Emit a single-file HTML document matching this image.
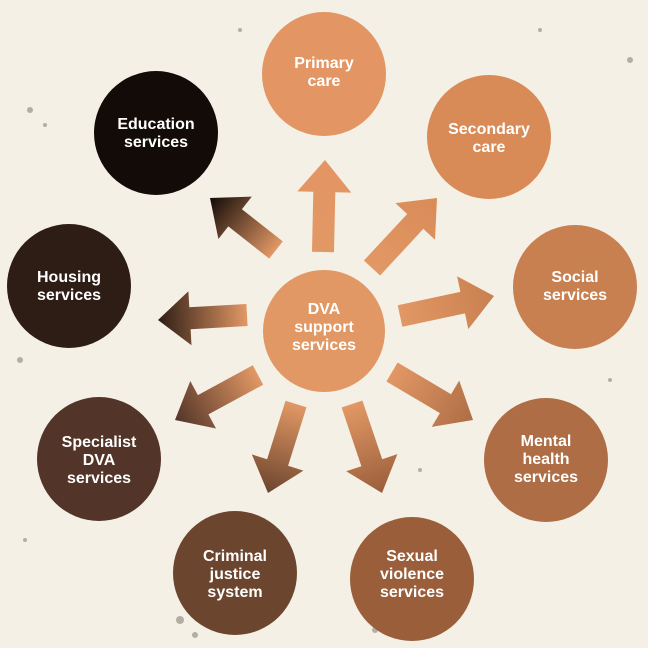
<!DOCTYPE html>
<html><head><meta charset="utf-8"><style>
html,body{margin:0;padding:0;background:#f4f0e6;}
svg{display:block}
text{font-family:"Liberation Sans",sans-serif;font-weight:bold;font-size:16px;fill:#fff;text-anchor:middle}
</style></head><body>
<svg width="648" height="648" viewBox="0 0 648 648" xmlns="http://www.w3.org/2000/svg">
<rect width="648" height="648" fill="#f4f0e6"/>
<g fill="#3a3530" opacity="0.35">
<circle cx="30" cy="110" r="3"/><circle cx="45" cy="125" r="2"/><circle cx="20" cy="360" r="3"/><circle cx="25" cy="540" r="2"/>
<circle cx="180" cy="620" r="4"/><circle cx="195" cy="635" r="3"/><circle cx="375" cy="630" r="3"/><circle cx="610" cy="380" r="2"/>
<circle cx="630" cy="60" r="3"/><circle cx="540" cy="30" r="2"/><circle cx="420" cy="470" r="2"/><circle cx="240" cy="30" r="2"/>
</g>
<defs></defs>
<g id="arrows"></g>
<circle cx="324" cy="331" r="61" fill="#e29865"/>
<text x="324" y="314">DVA</text><text x="324" y="332">support</text><text x="324" y="350">services</text>

<circle cx="324" cy="74" r="62" fill="#e39563"/><text x="324" y="68">Primary</text><text x="324" y="86">care</text>
<circle cx="489" cy="137" r="62" fill="#d98b57"/><text x="489" y="134">Secondary</text><text x="489" y="152">care</text>
<circle cx="575" cy="287" r="62" fill="#c98050"/><text x="575" y="282">Social</text><text x="575" y="300">services</text>
<circle cx="546" cy="460" r="62" fill="#ae6d45"/><text x="546" y="446">Mental</text><text x="546" y="464">health</text><text x="546" y="482">services</text>
<circle cx="412" cy="579" r="62" fill="#9a5e3b"/><text x="412" y="561">Sexual</text><text x="412" y="579">violence</text><text x="412" y="597">services</text>
<circle cx="235" cy="573" r="62" fill="#6c452e"/><text x="235" y="561">Criminal</text><text x="235" y="579">justice</text><text x="235" y="597">system</text>
<circle cx="99" cy="459" r="62" fill="#533428"/><text x="99" y="447">Specialist</text><text x="99" y="465">DVA</text><text x="99" y="483">services</text>
<circle cx="69" cy="286" r="62" fill="#2e1d15"/><text x="69" y="282">Housing</text><text x="69" y="300">services</text>
<circle cx="156" cy="133" r="62" fill="#130b07"/><text x="156" y="129">Education</text><text x="156" y="147">services</text>
<script>
var A=[[323,252,325,160,"#e39563"],[372,268,437,198,"#d98b57"],[400,316,494,296,"#c98050"],[392,372,473,420,"#ae6d45"],[352,404,382,493,"#9a5e3b"],[296,404,268,493,"#6c452e"],[258,375,175,420,"#533428"],[247,315,158,320,"#2e1d15"],[276,250,210,198,"#130b07"]];
var g=document.getElementById("arrows"),ns="http://www.w3.org/2000/svg",defs=document.querySelector("defs");
A.forEach(function(a,i){var x1=a[0],y1=a[1],x2=a[2],y2=a[3];var dx=x2-x1,dy=y2-y1,L=Math.hypot(dx,dy),ux=dx/L,uy=dy/L,px=-uy,py=ux;
var sw=11,hw=27,hl=32;var bx=x2-ux*hl,by=y2-uy*hl;
var pts=[[x1+px*sw,y1+py*sw],[bx+px*sw,by+py*sw],[bx+px*hw,by+py*hw],[x2,y2],[bx-px*hw,by-py*hw],[bx-px*sw,by-py*sw],[x1-px*sw,y1-py*sw]];
var lg=document.createElementNS(ns,"linearGradient");lg.setAttribute("id","g"+i);lg.setAttribute("gradientUnits","userSpaceOnUse");
lg.setAttribute("x1",x1);lg.setAttribute("y1",y1);lg.setAttribute("x2",x2);lg.setAttribute("y2",y2);
var s1=document.createElementNS(ns,"stop");s1.setAttribute("offset","0");s1.setAttribute("stop-color","#e29865");
var s2=document.createElementNS(ns,"stop");s2.setAttribute("offset","1");s2.setAttribute("stop-color",a[4]);
lg.appendChild(s1);lg.appendChild(s2);defs.appendChild(lg);
var p=document.createElementNS(ns,"polygon");p.setAttribute("points",pts.map(function(q){return q[0].toFixed(1)+","+q[1].toFixed(1)}).join(" "));
p.setAttribute("fill","url(#g"+i+")");g.appendChild(p);});
</script>
</svg>
</body></html>
